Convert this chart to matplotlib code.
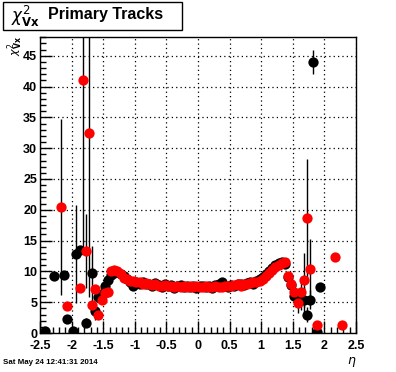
import numpy as np
import matplotlib
matplotlib.use("Agg")
import matplotlib.pyplot as plt
from matplotlib.patches import Rectangle
from matplotlib.ticker import MultipleLocator

plt.rcParams['font.family'] = ['Liberation Sans', 'DejaVu Sans']

# central |eta| < 1.4 region, 0.05 wide bins
eta_core = np.round(np.arange(-1.375, 1.4, 0.05), 3)
blk_core = [9.4, 9.8, 9.9, 9.5, 9.2, 8.8, 8.3, 7.6, 8.2, 8.0,
            8.3, 7.9, 8.0, 7.6, 8.1, 7.8, 7.5, 7.9, 7.6, 7.8,
            7.3, 7.6, 7.8, 7.4, 7.6, 7.5, 7.7, 7.3, 7.6, 7.7,
            7.4, 7.6, 7.3, 7.8, 8.0, 8.3, 7.7, 7.5, 7.8, 7.6,
            7.9, 8.0, 7.8, 8.1, 8.3, 8.0, 8.4, 8.7, 9.1, 9.6,
            10.1, 10.6, 11.0, 11.4, 11.5, 11.2]
red_core = [10.0, 10.2, 10.0, 9.6, 9.0, 8.7, 8.5, 8.4, 8.3, 8.2,
            8.0, 8.1, 7.9, 7.8, 7.9, 7.7, 7.6, 7.8, 7.7, 7.6,
            7.5, 7.7, 7.5, 7.6, 7.4, 7.6, 7.5, 7.6, 7.4, 7.5,
            7.6, 7.4, 7.5, 7.6, 7.5, 7.4, 7.6, 7.7, 7.6, 7.8,
            7.9, 7.7, 7.9, 8.0, 8.1, 8.2, 8.3, 8.5, 8.8, 9.3,
            9.8, 10.3, 10.7, 11.0, 11.3, 11.6]

# forward bins (black)
eta_blk_edge = [-2.425, -2.275, -2.125, -2.075, -1.975, -1.925, -1.875,
                -1.775, -1.675, -1.625, -1.575, -1.525, -1.475, -1.425,
                1.425, 1.475, 1.525, 1.575, 1.625, 1.675, 1.725, 1.775,
                1.825, 1.875, 1.925]
blk_edge = [0.3, 9.3, 9.4, 2.3, 0.3, 12.8, 13.4,
            1.7, 9.7, 3.6, 5.8, 6.3, 7.7, 8.6,
            9.1, 7.8, 6.0, 5.9, 5.3, 5.4, 3.0, 5.4,
            44.0, 0.2, 7.4]
blk_edge_err = [0.4, 0.0, 0.0, 0.6, 0.3, 8.0, 0.0,
                0.8, 4.5, 1.5, 0.0, 0.0, 0.0, 0.0,
                0.0, 0.0, 0.5, 1.2, 1.5, 2.0, 1.2, 1.5,
                1.9, 0.3, 0.0]

# forward bins (red)
eta_red_edge = [-2.175, -2.075, -1.875, -1.825, -1.775, -1.725, -1.675,
                -1.625, -1.575, -1.525, -1.475, -1.425,
                1.425, 1.475, 1.525, 1.575, 1.625, 1.675, 1.725, 1.775,
                1.875, 2.175, 2.275]
red_edge = [20.4, 4.4, 7.3, 41.0, 13.3, 32.4, 4.5,
            7.2, 3.0, 5.3, 6.5, 6.7,
            9.2, 8.0, 6.6, 4.8, 6.7, 8.6, 18.6, 10.4,
            1.3, 12.3, 1.3]
red_edge_err = [14.3, 0.0, 0.0, 27.5, 6.0, 26.5, 0.0,
                0.0, 0.0, 0.0, 0.0, 0.0,
                0.0, 0.0, 1.0, 1.5, 1.5, 4.4, 9.7, 4.8,
                0.0, 0.0, 0.0]

eta_blk = np.concatenate([eta_blk_edge, eta_core])
y_blk = np.concatenate([blk_edge, blk_core])
e_blk = np.concatenate([blk_edge_err, np.zeros(len(eta_core))])
eta_red = np.concatenate([eta_red_edge, eta_core])
y_red = np.concatenate([red_edge, red_core])
e_red = np.concatenate([red_edge_err, np.zeros(len(eta_core))])

fig = plt.figure(figsize=(3.96, 3.72), dpi=100)
ax = fig.add_axes([40 / 396, 39 / 372, 316 / 396, 296 / 372])

ax.errorbar(eta_blk, y_blk, yerr=e_blk, fmt='o', color='black', ms=7.4,
            mew=0, elinewidth=1, capsize=0, zorder=3)
ax.errorbar(eta_red, y_red, yerr=e_red, fmt='o', color='red', ecolor='black',
            ms=7.4, mew=0, elinewidth=1, capsize=0, zorder=4)

ax.set_xlim(-2.5, 2.5)
ax.set_ylim(0, 48.05)
ax.xaxis.set_major_locator(MultipleLocator(0.5))
ax.xaxis.set_minor_locator(MultipleLocator(0.1))
ax.yaxis.set_major_locator(MultipleLocator(5))
ax.yaxis.set_minor_locator(MultipleLocator(1))
ax.xaxis.set_major_formatter(plt.FuncFormatter(lambda v, p: f'{v:g}'))
ax.yaxis.set_major_formatter(plt.FuncFormatter(lambda v, p: f'{v:g}'))
ax.tick_params(which='both', direction='in', top=False, right=False,
               width=1, color='black')
ax.tick_params(which='major', length=8.5)
ax.tick_params(which='minor', length=4)
ax.tick_params(axis='x', pad=5)
ax.tick_params(axis='y', pad=2)
for lab in ax.get_xticklabels() + ax.get_yticklabels():
    lab.set_fontweight('bold')
    lab.set_fontsize(9)
ax.grid(True, which='major', color='black', linestyle=(0, (1, 2.5)), linewidth=0.9)
ax.set_axisbelow(True)
for s in ax.spines.values():
    s.set_linewidth(1)

# title box
fig.patches.append(Rectangle((3 / 396, 1 - 30 / 372), 179 / 396, 28 / 372,
                             transform=fig.transFigure, facecolor='white',
                             edgecolor='black', linewidth=1))
fig.text(11 / 396, 1 - 16 / 372, r'$\chi^{2}_{\mathbf{Vx}}$', fontsize=12,
         ha='left', va='center')
fig.text(48 / 396, 1 - 14 / 372, 'Primary Tracks', fontsize=11.5,
         fontweight='bold', ha='left', va='center')

fig.text(15 / 396, 1 - 36 / 372, r'$\chi^{2}_{\mathbf{Vx}}$', fontsize=8,
         rotation=90, ha='center', va='top')
fig.text(352 / 396, 1 - 362 / 372, r'$\eta$', fontsize=9, ha='center', va='center')
fig.text(3 / 396, 1 - 362 / 372, 'Sat May 24 12:41:31 2014', fontsize=5.7,
         fontweight='bold', ha='left', va='center')

fig.savefig('out.png', dpi=100)
